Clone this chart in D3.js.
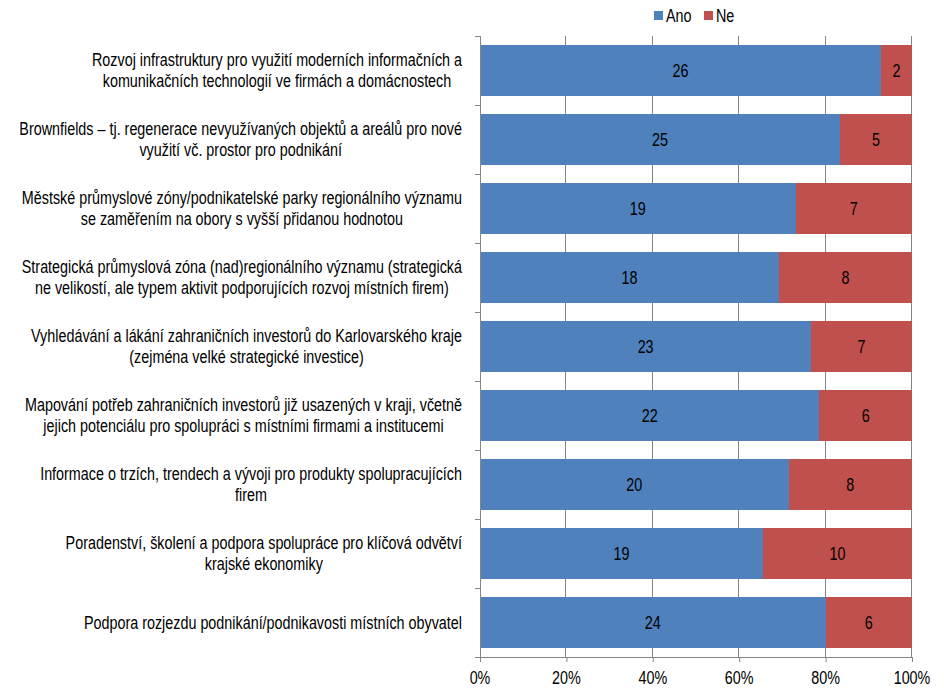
<!DOCTYPE html>
<html><head><meta charset="utf-8">
<script src="https://cdn.jsdelivr.net/npm/d3@7"></script>
<style>
body{margin:0;background:#fff;}
text{font-family:"Liberation Sans",Arial,sans-serif;}
</style></head>
<body><svg id="c" width="944" height="695"></svg>
<script>
const categories = [
  ["Rozvoj infrastruktury pro využití moderních informačních a","komunikačních technologií ve firmách a domácnostech"],
  ["Brownfields – tj. regenerace nevyužívaných objektů a areálů pro nové","využití vč. prostor pro podnikání"],
  ["Městské průmyslové zóny/podnikatelské parky regionálního významu","se zaměřením na obory s vyšší přidanou hodnotou"],
  ["Strategická průmyslová zóna (nad)regionálního významu (strategická","ne velikostí, ale typem aktivit podporujících rozvoj místních firem)"],
  ["Vyhledávání a lákání zahraničních investorů do Karlovarského kraje","(zejména velké strategické investice)"],
  ["Mapování potřeb zahraničních investorů již usazených v kraji, včetně","jejich potenciálu pro spolupráci s místními firmami a institucemi"],
  ["Informace o trzích, trendech a vývoji pro produkty spolupracujících","firem"],
  ["Poradenství, školení a podpora spolupráce pro klíčová odvětví","krajské ekonomiky"],
  ["Podpora rozjezdu podnikání/podnikavosti místních obyvatel"]
];
const ano = [26,25,19,18,23,22,20,19,24];
const ne  = [2,5,7,8,7,6,8,10,6];
const seriesNames = ["Ano","Ne"];
const colors = ["#4F81BD","#C0504D"];
const xTicks = [0,0.2,0.4,0.6,0.8,1];

const svg = d3.select("#c");
const L=480, R=912, T=36, B=657;
const FS=17.5, SX=0.82;
const axisColor="#868686";
const x = d3.scaleLinear().domain([0,1]).range([L,R]);
const y = d3.scaleBand().domain(d3.range(categories.length)).range([T,B]).paddingInner(0.27).paddingOuter(0.135);
const yb = d3.scaleBand().domain(d3.range(categories.length)).range([T,B]);

function ntext(g, px, py, str, anchor){
  return g.append("text").attr("transform",`translate(${px},${py}) scale(${SX},1)`)
    .attr("dy","0.35em").attr("text-anchor",anchor||"middle").attr("font-size",FS).attr("fill","#000").text(str);
}

// gridlines
svg.append("g").selectAll("line").data(xTicks.slice(1)).join("line")
  .attr("x1",d=>Math.round(x(d))-0.5).attr("x2",d=>Math.round(x(d))-0.5).attr("y1",T).attr("y2",B)
  .attr("stroke",axisColor).attr("stroke-width",1);

// bars
const gb = svg.append("g");
categories.forEach((c,i)=>{
  const vals=[ano[i],ne[i]], t=ano[i]+ne[i];
  let acc=0;
  vals.forEach((v,k)=>{
    const x0=x(acc/t), x1=x((acc+v)/t);
    gb.append("rect").attr("x",x0).attr("y",y(i)).attr("width",x1-x0).attr("height",y.bandwidth())
      .attr("fill",colors[k]).attr("shape-rendering","crispEdges");
    ntext(gb,(x0+x1)/2,y(i)+y.bandwidth()/2,v);
    acc+=v;
  });
});

// x axis
const xa = svg.append("g").attr("transform",`translate(0,${B})`)
  .call(d3.axisBottom(x).tickValues(xTicks).tickFormat("").tickSize(5).tickSizeOuter(0));
xa.select(".domain").attr("stroke",axisColor);
xa.selectAll(".tick line").attr("stroke",axisColor);
const xl = svg.append("g");
xTicks.forEach(t=>ntext(xl,x(t),B+21,d3.format(".0%")(t)));
svg.append("line").attr("x1",L-5).attr("x2",L).attr("y1",B+0.5).attr("y2",B+0.5).attr("stroke",axisColor);

// y axis
svg.append("line").attr("x1",L+0.5).attr("x2",L+0.5).attr("y1",T).attr("y2",B).attr("stroke",axisColor);
svg.append("g").selectAll("line").data(d3.range(categories.length)).join("line")
  .attr("x1",L-5).attr("x2",L).attr("y1",d=>Math.round(yb(d))+0.5).attr("y2",d=>Math.round(yb(d))+0.5).attr("stroke",axisColor);

// category labels: block right-aligned at labelRight, lines centered within block
const labelRight = 462;
const lab = svg.append("g");
categories.forEach((lines,i)=>{
  const cy = y(i)+y.bandwidth()/2;
  const n=lines.length, lh=21.5;
  const ts = lines.map((ln,j)=>ntext(lab,0,cy+(j-(n-1)/2)*lh,ln));
  const w = d3.max(ts, t=>t.node().getComputedTextLength()*SX);
  const cx = labelRight - w/2;
  ts.forEach((t,j)=>t.attr("transform",`translate(${cx},${cy+(j-(n-1)/2)*lh}) scale(${SX},1)`));
});

// legend
const lg = svg.append("g");
[[654,666],[704,716]].forEach(([sx,tx],k)=>{
  lg.append("rect").attr("x",sx).attr("y",11).attr("width",9).attr("height",9).attr("fill",colors[k]);
  ntext(lg,tx,15.5,seriesNames[k],"start");
});
</script></body></html>
